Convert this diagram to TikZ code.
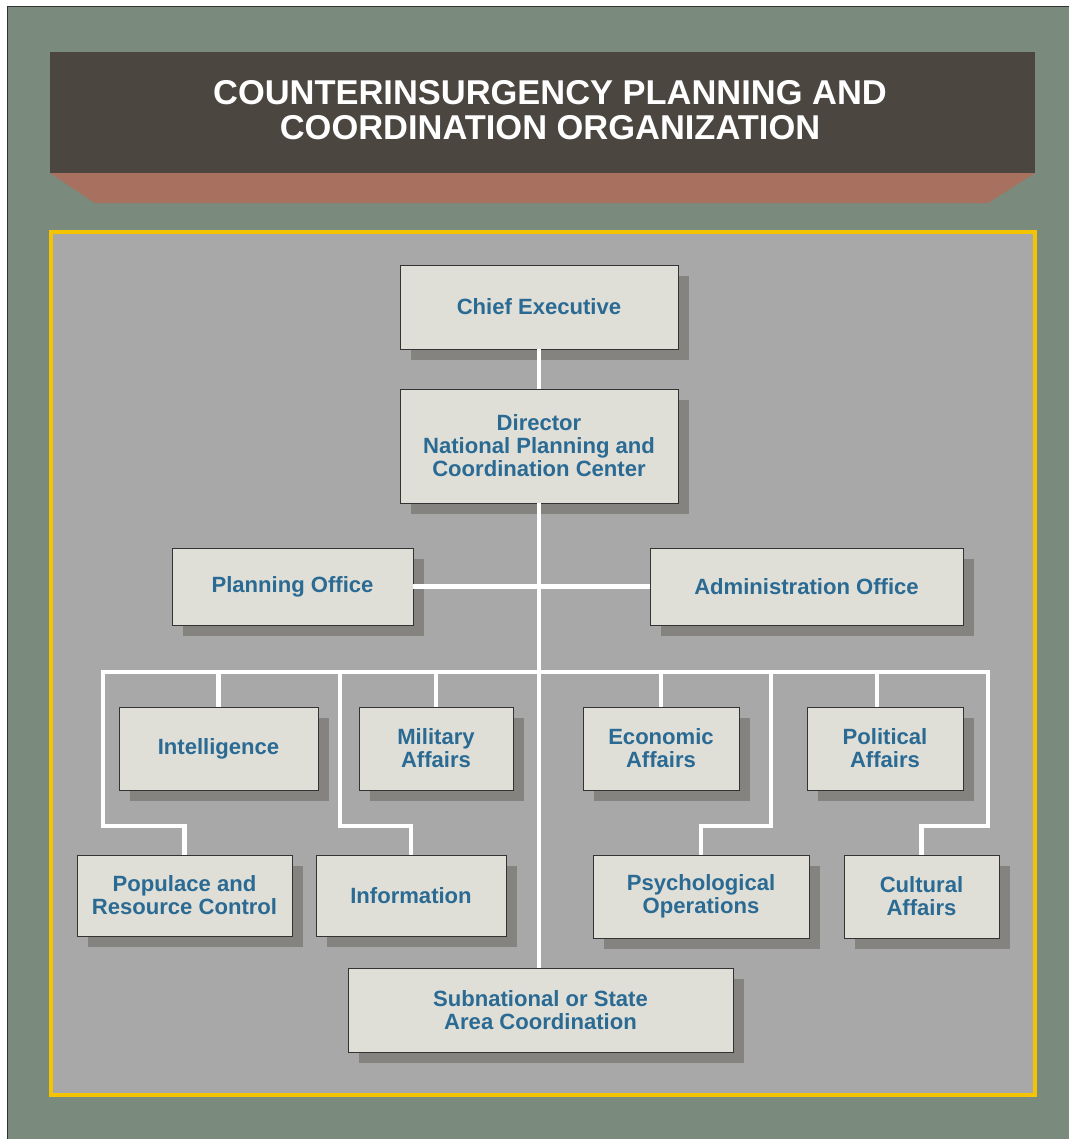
\documentclass[tikz,border=0pt]{standalone}
\usepackage{fontspec}
\setmainfont{Liberation Sans}
\usetikzlibrary{shadows}

\definecolor{bggreen}{HTML}{7A8A7D}
\definecolor{bannerdark}{HTML}{4B4640}
\definecolor{bannerbrown}{HTML}{A8705E}
\definecolor{panelgray}{HTML}{A8A8A8}
\definecolor{framegold}{HTML}{F5C400}
\definecolor{boxfill}{HTML}{DFDFD8}
\definecolor{boxshadow}{HTML}{858380}
\definecolor{boxline}{HTML}{333333}
\definecolor{labelblue}{HTML}{2A6A93}

\tikzset{
	orgbox/.style={draw=boxline, line width=0.6pt, fill=boxfill, text=labelblue, align=center, inner sep=0pt,
		font=\bfseries\fontsize{15.7}{16.4}\selectfont,
		drop shadow={shadow xshift=0.275cm, shadow yshift=-0.275cm, fill=boxshadow, opacity=1}},
	boxsize/.style 2 args={minimum width=#1*0.025cm, minimum height=#2*0.025cm},
	wire/.style={white, line width=3.5pt},
}

\begin{document}
\begin{tikzpicture}[x=0.025cm,y=-0.025cm]
			\useasboundingbox (0,0) rectangle (1069,1139);
			%\draw [help lines, step=50] (0,0) grid (1069,1139);
			\fill[bggreen] (7,6) rectangle (1069,1139);
			\draw[boxline, line width=0.6pt] (1069,6) -- (7,6) -- (7,1139);

			\fill[bannerdark] (50,52) rectangle (1035,173);
			\fill[bannerbrown] (50,173) -- (1035,173) -- (988,203) -- (95,203) -- cycle;
			\node[text=white, align=center, font=\bfseries\fontsize{24.5}{24.5}\selectfont] (title) at (550,110)
				{COUNTERINSURGENCY PLANNING AND\\COORDINATION ORGANIZATION};

			\draw[framegold, line width=2.8pt, fill=panelgray] (51,232) rectangle (1035,1095);

			\node[orgbox, boxsize={278}{84}] (chief) at (539,307) {Chief Executive};
			\node[orgbox, boxsize={278}{114}] (director) at (539,446) {Director\\National Planning and\\Coordination Center};
			\node[orgbox, boxsize={241}{77}] (planning) at (292.5,586.5) {Planning Office};
			\node[orgbox, boxsize={313}{77}] (admin) at (806.5,586.5) {Administration Office};

			\node[orgbox, boxsize={199}{83}] (intel) at (218.5,748.5) {Intelligence};
			\node[orgbox, boxsize={154}{83}] (military) at (436,748.5) {Military\\Affairs};
			\node[orgbox, boxsize={156}{83}] (economic) at (661,748.5) {Economic\\Affairs};
			\node[orgbox, boxsize={156}{83}] (political) at (885,748.5) {Political\\Affairs};

			\node[orgbox, boxsize={215}{81}] (populace) at (184.5,895.5) {Populace and\\Resource Control};
			\node[orgbox, boxsize={190}{81}] (information) at (411,895.5) {Information};
			\node[orgbox, boxsize={216}{83}] (psyops) at (701,896.5) {Psychological\\Operations};
			\node[orgbox, boxsize={155}{83}] (cultural) at (921.5,896.5) {Cultural\\Affairs};

			\node[orgbox, boxsize={385}{84}] (subnat) at (540.5,1010) {Subnational or State\\Area Coordination};

			\coordinate (busL) at (103,672);
			\coordinate (busR) at (988,672);
			\coordinate (kneeL) at (103,826);
			\coordinate (kneeI) at (340,826);
			\coordinate (kneeP) at (771,826);
			\coordinate (kneeR) at (988,826);

			\draw[wire] (chief.south) -- (director.north);
			\draw[wire] (director.south) -- (director.south |- subnat.north);
			\draw[wire] (planning.east) -- (admin.west);
			\draw[wire] (populace.north) |- (kneeL) -- (busL) -- (busR) -- (kneeR) -| (cultural.north);
			\draw[wire] (information.north) |- (kneeI) -- (kneeI |- busL);
			\draw[wire] (psyops.north) |- (kneeP) -- (kneeP |- busL);

			\draw[wire] (intel.north) -- (intel.north |- busL);
			\draw[wire] (military.north) -- (military.north |- busL);
			\draw[wire] (economic.north) -- (economic.north |- busL);
			\draw[wire] ([xshift=-0.2cm]political.north) -- ([xshift=-0.2cm]political.north |- busL);
		\end{tikzpicture}
\end{document}
